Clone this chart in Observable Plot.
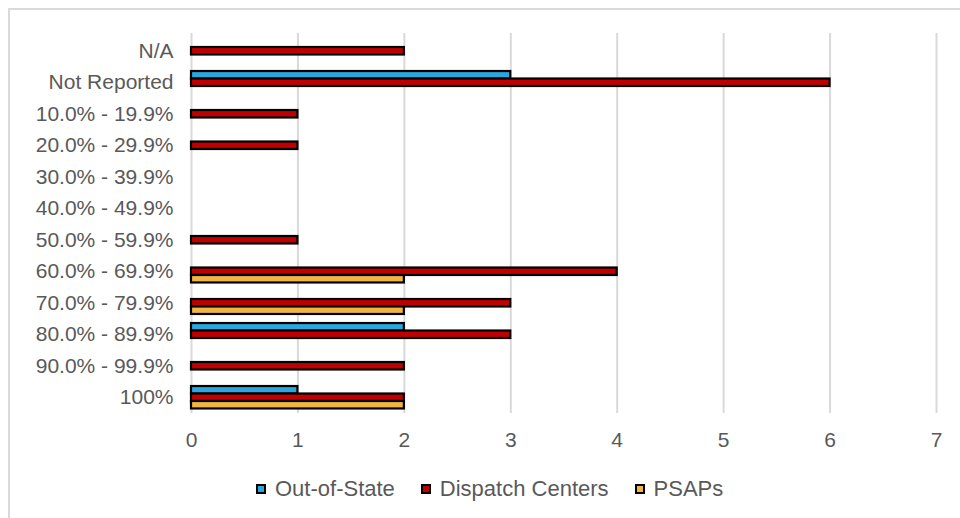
<!DOCTYPE html>
<html>
<head>
<meta charset="utf-8">
<script src="https://cdn.jsdelivr.net/npm/d3@7"></script>
<script src="https://cdn.jsdelivr.net/npm/@observablehq/plot@0.6"></script>
<style>
  html, body { margin: 0; padding: 0; background: #fff; }
  body { width: 960px; height: 518px; position: relative; overflow: hidden; font-family: "Liberation Sans", Arial, sans-serif; }
  #frame { position: absolute; left: 8px; top: 8px; width: 980px; height: 540px; border-top: 2px solid #d9d9d9; border-left: 2px solid #d9d9d9; }
  #chart { position: absolute; left: 0; top: 0; }
  #legend { position: absolute; left: 256px; top: 476px; display: flex; align-items: center; font-size: 22px; color: #595959; }
  .item { display: flex; align-items: center; margin-right: 26px; }
  .swatch { width: 10px; height: 10px; box-sizing: border-box; border: 2px solid #000; margin-right: 9px; }
</style>
</head>
<body>
<div id="frame"></div>
<div id="chart"></div>
<div id="legend"></div>
<script>
// Response categories, top to bottom
const categories = [
  "N/A", "Not Reported",
  "10.0% - 19.9%", "20.0% - 29.9%", "30.0% - 39.9%", "40.0% - 49.9%",
  "50.0% - 59.9%", "60.0% - 69.9%", "70.0% - 79.9%", "80.0% - 89.9%",
  "90.0% - 99.9%", "100%"
];
// Counts per category for each series
const outOfState      = [0, 3, 0, 0, 0, 0, 0, 0, 0, 2, 0, 1];
const dispatchCenters = [2, 6, 1, 1, 0, 0, 1, 4, 3, 3, 2, 2];
const psaps           = [0, 0, 0, 0, 0, 0, 0, 2, 2, 0, 0, 2];

const seriesNames = ["Out-of-State", "Dispatch Centers", "PSAPs"];
const seriesColors = ["#29A8E0", "#C00000", "#F2B544"];
const xTicks = [0, 1, 2, 3, 4, 5, 6, 7];

// Clustered layout: each category occupies one unit on y; the three
// series share the middle of it, the middle series centred on the row.
const barBand = 0.2375;
const clusterTop = 0.5 - 1.5 * barBand;

const seriesValues = [outOfState, dispatchCenters, psaps];
const rows = [];
categories.forEach((c, i) => {
  seriesNames.forEach((s, j) => {
    const v = seriesValues[j][i];
    if (v > 0) rows.push({
      category: c, series: s, value: v,
      y1: i + clusterTop + j * barBand,
      y2: i + clusterTop + (j + 1) * barBand
    });
  });
});
const rowCentres = categories.map((c, i) => i + 0.5);

const chart = Plot.plot({
  width: 960,
  height: 460,
  marginLeft: 191,
  marginRight: 24,
  marginTop: 35,
  marginBottom: 47,
  style: {fontFamily: "'Liberation Sans', Arial, sans-serif", fontSize: "21px", color: "#595959", background: "transparent"},
  x: {domain: [0, 7], label: null},
  y: {domain: [0, categories.length], reverse: true, label: null},
  color: {domain: seriesNames, range: seriesColors},
  marks: [
    Plot.gridX(xTicks, {stroke: "#d9d9d9", strokeOpacity: 1, strokeWidth: 2, insetTop: -2}),
    Plot.axisX({ticks: xTicks, tickFormat: d => String(d), tickSize: 0, tickPadding: 19, label: null}),
    Plot.axisY({ticks: rowCentres, tickFormat: d => categories[Math.floor(d)], tickSize: 0, tickPadding: 18, label: null}),
    Plot.rectX(rows, {x1: 0, x2: "value", y1: "y1", y2: "y2", fill: "series", stroke: "#000", strokeWidth: 2.2})
  ]
});
document.getElementById("chart").appendChild(chart);

// Legend below the plot
const legend = document.getElementById("legend");
seriesNames.forEach((s, j) => {
  const item = document.createElement("div");
  item.className = "item";
  const sw = document.createElement("div");
  sw.className = "swatch";
  sw.style.background = seriesColors[j];
  const label = document.createElement("span");
  label.textContent = s;
  item.appendChild(sw);
  item.appendChild(label);
  legend.appendChild(item);
});
</script>
</body>
</html>
